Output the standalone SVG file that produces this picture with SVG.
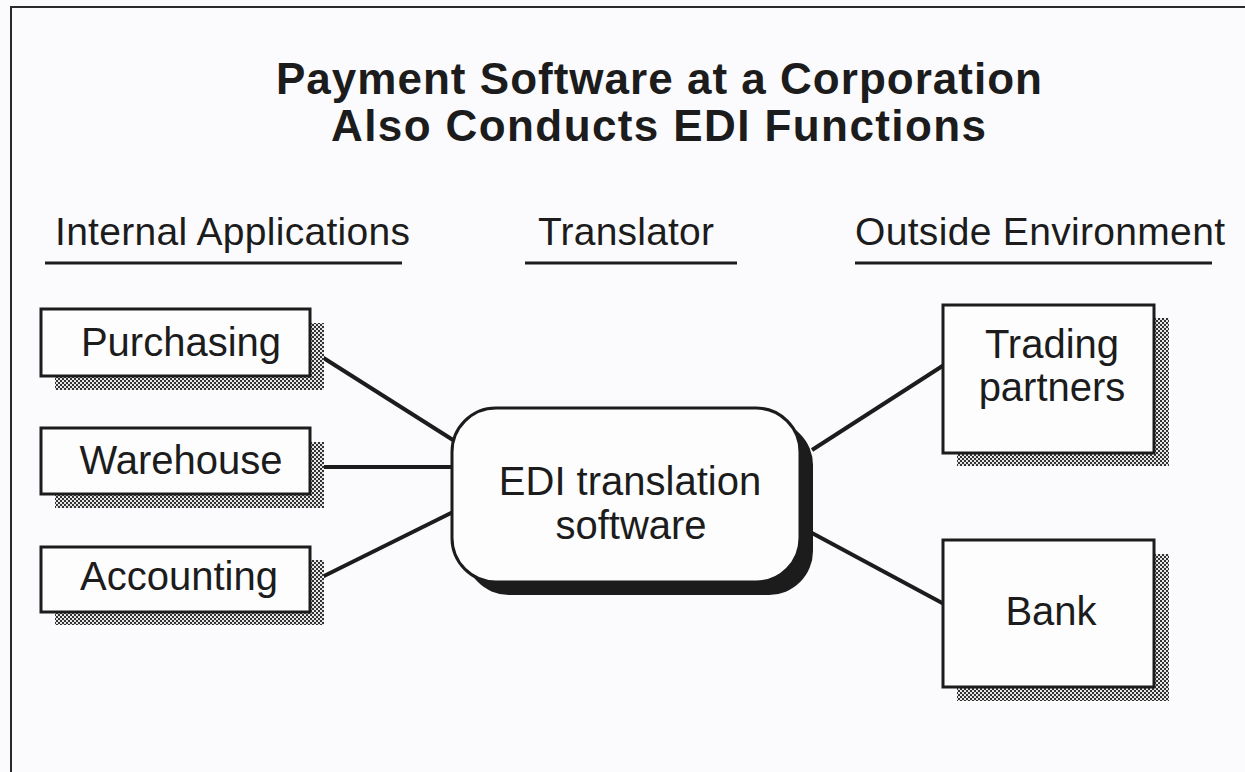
<svg xmlns="http://www.w3.org/2000/svg" width="1245" height="772" viewBox="0 0 1245 772">
  <style>
    .title { font-family: "Liberation Sans", Arial, sans-serif; font-weight: bold; font-size: 44px; fill: #1c1c1c; }
    .head { font-family: "Liberation Sans", Arial, sans-serif; font-size: 39px; fill: #1c1c1c; }
    .label { font-family: "Liberation Sans", Arial, sans-serif; font-size: 40px; fill: #1c1c1c; text-anchor: middle; }
    .rule { stroke: #1c1c1c; stroke-width: 3; }
    .box { fill: #fdfdfe; stroke: #1c1c1c; stroke-width: 3; }
    .shadow { fill: url(#dither); }
    .link { stroke: #1c1c1c; stroke-width: 4; fill: none; }
  </style>
  <defs>
    <!-- fine dithered grey used for drop shadows -->
    <pattern id="dither" width="4" height="4" patternUnits="userSpaceOnUse">
      <rect width="4" height="4" fill="#e6e6e6"/>
      <rect x="0" y="0" width="2" height="2" fill="#333"/>
      <rect x="2" y="2" width="2" height="2" fill="#333"/>
    </pattern>
  </defs>

  <rect width="1245" height="772" fill="#fbfbfd"/>

  <!-- page frame -->
  <path d="M11 772 V7 H1245" fill="none" stroke="#2a2a2a" stroke-width="2"/>

  <!-- title -->
  <g id="title">
    <text class="title" x="276" y="94" textLength="766" lengthAdjust="spacing">Payment Software at a Corporation</text>
    <text class="title" x="331" y="141" textLength="655" lengthAdjust="spacing">Also Conducts EDI Functions</text>
  </g>

  <!-- column headings -->
  <g id="headings">
    <text class="head" x="55" y="245" textLength="355" lengthAdjust="spacing">Internal Applications</text>
    <line class="rule" x1="45" y1="263" x2="402" y2="263"/>
    <text class="head" x="538" y="245" textLength="176" lengthAdjust="spacing">Translator</text>
    <line class="rule" x1="525" y1="263" x2="737" y2="263"/>
    <text class="head" x="855" y="245" textLength="370" lengthAdjust="spacing">Outside Environment</text>
    <line class="rule" x1="855" y1="263" x2="1212" y2="263"/>
  </g>

  <!-- connectors -->
  <g id="connectors">
    <line class="link" x1="322" y1="357" x2="453" y2="440"/>
    <line class="link" x1="323" y1="467" x2="453" y2="467"/>
    <line class="link" x1="320" y1="578" x2="453" y2="512"/>
    <line class="link" x1="812" y1="450" x2="944" y2="365"/>
    <line class="link" x1="812" y1="533" x2="944" y2="604"/>
  </g>

  <g id="purchasing">
    <rect class="shadow" x="55" y="323" width="269" height="67"/>
    <rect class="box" x="41" y="309" width="269" height="67"/>
    <text class="label" x="181" y="356">Purchasing</text>
  </g>

  <g id="warehouse">
    <rect class="shadow" x="55" y="442" width="269" height="66"/>
    <rect class="box" x="41" y="428" width="269" height="66"/>
    <text class="label" x="181" y="474">Warehouse</text>
  </g>

  <g id="accounting">
    <rect class="shadow" x="55" y="560" width="269" height="65"/>
    <rect class="box" x="41" y="547" width="269" height="65"/>
    <text class="label" x="179" y="590">Accounting</text>
  </g>

  <g id="edi-translation">
    <rect x="465" y="421" width="348" height="174" rx="44" fill="#1c1c1c"/>
    <rect class="box" x="452" y="408" width="348" height="174" rx="44"/>
    <text class="label" x="630" y="495">EDI translation</text>
    <text class="label" x="631" y="539">software</text>
  </g>

  <g id="trading-partners">
    <rect class="shadow" x="957" y="318" width="212" height="148"/>
    <rect class="box" x="943" y="305" width="211" height="148"/>
    <text class="label" x="1052" y="358">Trading</text>
    <text class="label" x="1052" y="401">partners</text>
  </g>

  <g id="bank">
    <rect class="shadow" x="957" y="554" width="212" height="147"/>
    <rect class="box" x="943" y="540" width="211" height="147"/>
    <text class="label" x="1051" y="625">Bank</text>
  </g>
</svg>
